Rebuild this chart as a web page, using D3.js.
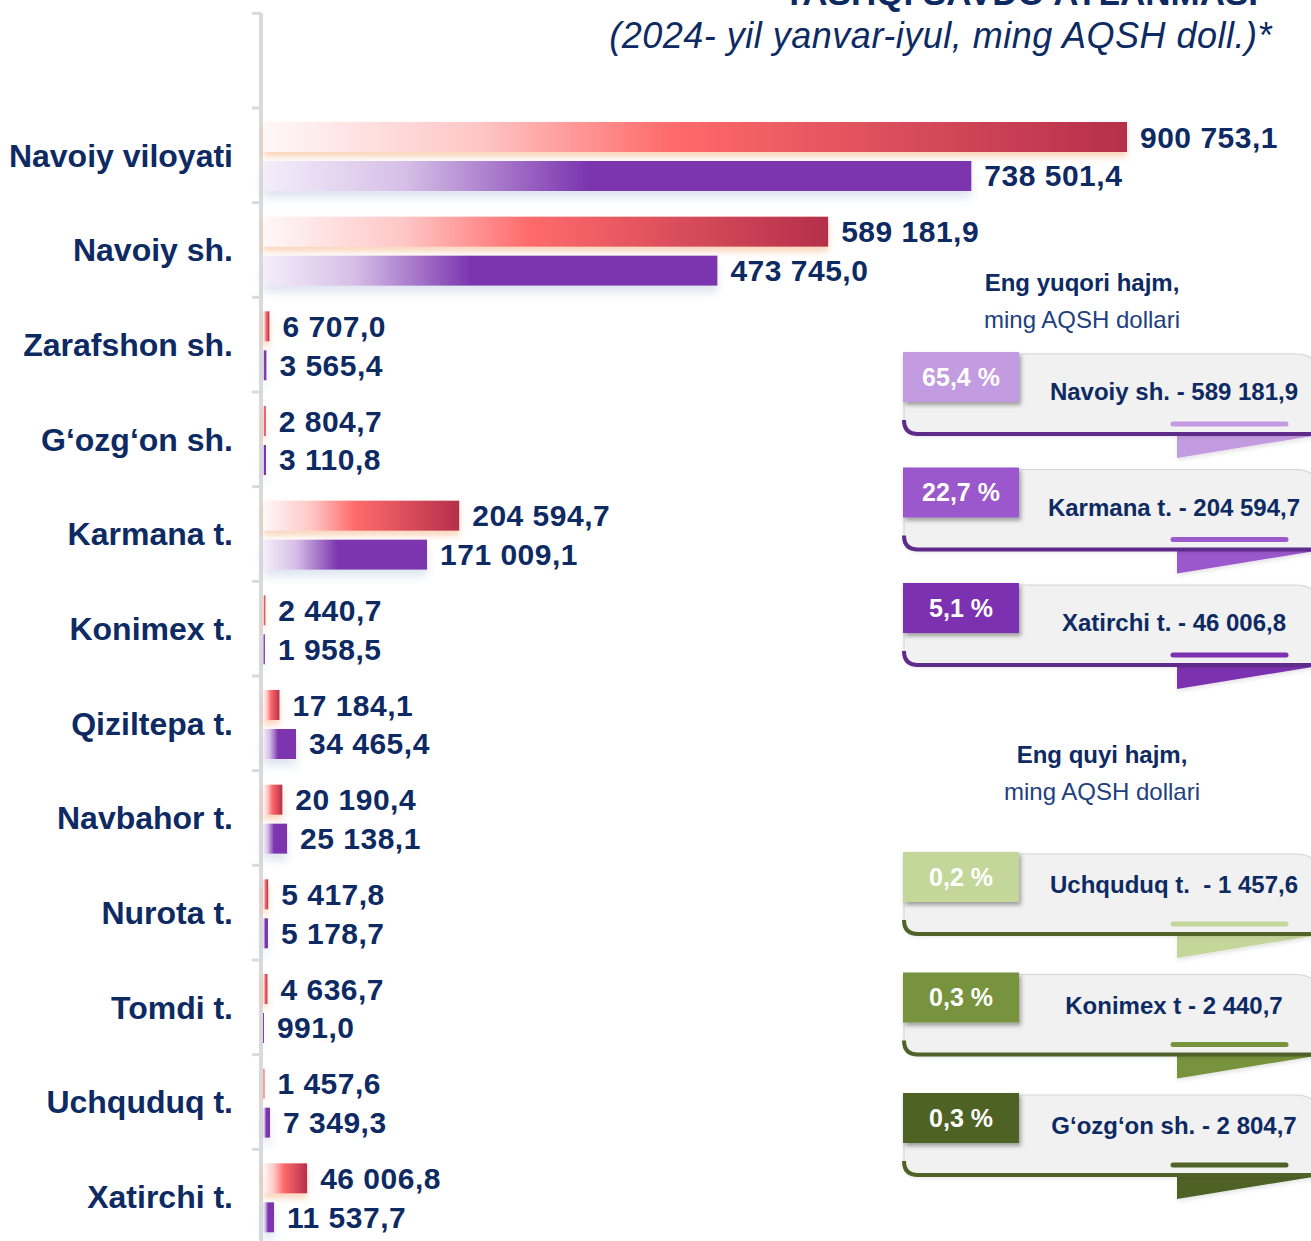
<!DOCTYPE html>
<html lang="uz">
<head>
<meta charset="UTF-8" />
<title>Tashqi savdo aylanmasi</title>
<script src="https://d3js.org/d3.v7.min.js"></script>
<style>
  body { margin: 0; background: #fff; font-family: "Liberation Sans", Arial, sans-serif; }
  svg { display: block; }
  .cat { font-size: 32px; font-weight: bold; fill: #0e2a63; }
  .val { font-size: 30px; font-weight: bold; fill: #0e2a63; letter-spacing: 0.5px; }
  .caption { font-size: 24px; font-weight: bold; fill: #0e2a63; white-space: pre; }
  .badge-text { font-size: 25px; font-weight: bold; fill: #fff; }
</style>
</head>
<body>
<svg width="1311" height="1241"></svg>
<script>
// regions, top to bottom
const regions = ["Navoiy viloyati", "Navoiy sh.", "Zarafshon sh.", "G‘ozg‘on sh.", "Karmana t.", "Konimex t.",
  "Qiziltepa t.", "Navbahor t.", "Nurota t.", "Tomdi t.", "Uchquduq t.", "Xatirchi t."];
// red bars (2024 yanvar-iyul)
const current = [900753.1, 589181.9, 6707.0, 2804.7, 204594.7, 2440.7, 17184.1, 20190.4, 5417.8, 4636.7, 1457.6, 46006.8];
// purple bars
const previous = [738501.4, 473745.0, 3565.4, 3110.8, 171009.1, 1958.5, 34465.4, 25138.1, 5178.7, 991.0, 7349.3, 11537.7];

// callouts
const topRegions = ["Navoiy sh.", "Karmana t.", "Xatirchi t."];
const topCaptions = ["Navoiy sh.", "Karmana t.", "Xatirchi t."];
const topColors = ["#c39be0", "#9b59cc", "#7b30b0"];
const bottomRegions = ["Uchquduq t.", "Konimex t.", "G‘ozg‘on sh."];
const bottomCaptions = ["Uchquduq t. ", "Konimex t", "G‘ozg‘on sh."];
const bottomColors = ["#c4d79b", "#77933c", "#4f6228"];

const navy = "#0e2a63";
const uz = d3.formatLocale({ decimal: ",", thousands: " ", grouping: [3], currency: ["", ""] });
const fmt = uz.format(",.1f");
const fmtPct = uz.format(".1f");

const svg = d3.select("svg");
const W = +svg.attr("width"), H = +svg.attr("height");

const defs = svg.append("defs");
const redGrad = defs.append("linearGradient").attr("id", "redGrad");
[[0, "#fff8f8"], [0.25, "#ffc6c6"], [0.47, "#ff6b6b"], [1, "#b52f4b"]].forEach(([o, c]) =>
  redGrad.append("stop").attr("offset", o).attr("stop-color", c));
const purpleGrad = defs.append("linearGradient").attr("id", "purpleGrad");
[[0, "#f4eefa"], [0.2, "#d6bfe7"], [0.46, "#7b34ae"], [1, "#7b34ae"]].forEach(([o, c]) =>
  purpleGrad.append("stop").attr("offset", o).attr("stop-color", c));

function shadow(id, color, opacity, dx, dy, sd) {
  defs.append("filter").attr("id", id)
    .attr("filterUnits", "userSpaceOnUse")
    .attr("x", 0).attr("y", 0).attr("width", W).attr("height", H)
    .append("feDropShadow")
    .attr("dx", dx).attr("dy", dy).attr("stdDeviation", sd)
    .attr("flood-color", color).attr("flood-opacity", opacity);
}
shadow("redShadow", "#f3a46a", 0.45, 0, 5, 3);
shadow("purpleShadow", "#b9c6e0", 0.45, 0, 7, 4);
shadow("badgeShadow", "#000", 0.35, 2, 3, 2);
shadow("cardShadow", "#000", 0.12, 1, 2, 2);

// title (its top is cut by the picture edge)
svg.append("text")
  .attr("x", 1258).attr("y", 5)
  .attr("text-anchor", "end")
  .style("font-size", "35px").style("font-weight", "bold").style("fill", navy)
  .text("TASHQI SAVDO AYLANMASI");
svg.append("text")
  .attr("x", 1272).attr("y", 48)
  .attr("text-anchor", "end")
  .style("font-size", "36px").style("font-style", "italic").style("fill", navy)
  .style("letter-spacing", "0.5px")
  .text("(2024- yil yanvar-iyul, ming AQSH doll.)*");

// scales
const y = d3.scaleBand().domain(regions).range([108, 1244]);
const sub = d3.scaleBand().domain(["current", "previous"]).range([14, 83]).paddingInner(0.23);
const x = d3.scaleLinear().domain([0, d3.max(current)]).range([263, 1127]);

// axis
const axisX = 261;
svg.append("line")
  .attr("x1", axisX).attr("x2", axisX)
  .attr("y1", y.range()[0] - y.step()).attr("y2", H)
  .attr("stroke", "#dadada").attr("stroke-width", 4);
const tickYs = [y.range()[0] - y.step()].concat(regions.map(r => y(r)));
svg.selectAll(".tick").data(tickYs).enter().append("line")
  .attr("class", "tick")
  .attr("x1", axisX - 9).attr("x2", axisX)
  .attr("y1", d => d).attr("y2", d => d)
  .attr("stroke", "#dadada").attr("stroke-width", 3);

// category labels
svg.selectAll(".cat").data(regions).enter().append("text")
  .attr("class", "cat")
  .attr("x", 233)
  .attr("y", d => y(d) + y.step() / 2)
  .attr("dy", "0.35em")
  .attr("text-anchor", "end")
  .text(d => d);

// bars
const rows = regions.map((r, i) => ({ region: r, current: current[i], previous: previous[i] }));
const series = [
  { key: "current", fill: "url(#redGrad)", filter: "url(#redShadow)" },
  { key: "previous", fill: "url(#purpleGrad)", filter: "url(#purpleShadow)" }
];
series.forEach(s => {
  svg.append("g").selectAll("rect").data(rows).enter().append("rect")
    .attr("x", x(0))
    .attr("y", d => y(d.region) + sub(s.key))
    .attr("width", d => x(d[s.key]) - x(0))
    .attr("height", sub.bandwidth())
    .attr("fill", s.fill)
    .attr("filter", s.filter);
  svg.append("g").selectAll("text").data(rows).enter().append("text")
    .attr("class", "val")
    .attr("x", d => x(d[s.key]) + 13)
    .attr("y", d => y(d.region) + sub(s.key) + sub.bandwidth() / 2)
    .attr("dy", "0.35em")
    .text(d => fmt(d[s.key]));
});

// callout groups
const total = current[0];
function valueOf(region) { return current[regions.indexOf(region)]; }

function callouts(names, captions, colors, lineColor, range, textOffset, heading) {
  const pos = d3.scalePoint().domain(names).range(range);
  const g = svg.append("g");
  g.append("text")
    .attr("x", heading.x).attr("y", heading.y1)
    .attr("text-anchor", "middle")
    .style("font-size", "24px").style("font-weight", "bold").style("fill", navy)
    .text(heading.title);
  g.append("text")
    .attr("x", heading.x).attr("y", heading.y2)
    .attr("text-anchor", "middle")
    .style("font-size", "24px").style("fill", "#22407e")
    .text("ming AQSH dollari");

  const left = 904, right = 1318, r = 22, lr = 14;
  names.forEach((name, i) => {
    const t = pos(name);
    const top = t + 2, bottom = t + 82;
    const col = colors[i];
    const box = g.append("g");
    // fold under the card
    box.append("path")
      .attr("d", `M1177,${bottom + 1}H${right}L1177,${bottom + 24}Z`)
      .attr("fill", col)
      .attr("filter", "url(#cardShadow)");
    // card
    box.append("path")
      .attr("d", `M${left},${top}H${right - r}Q${right},${top} ${right},${top + r}V${bottom}H${left + lr}Q${left},${bottom} ${left},${bottom - lr}Z`)
      .attr("fill", "#f1f1f1")
      .attr("stroke", "#d6d6d6")
      .attr("stroke-width", 1.2)
      .attr("filter", "url(#cardShadow)");
    // bottom edge
    box.append("path")
      .attr("d", `M${left},${bottom - lr}Q${left},${bottom} ${left + lr},${bottom}H${right}`)
      .attr("fill", "none")
      .attr("stroke", lineColor)
      .attr("stroke-width", 4);
    // underline
    box.append("line")
      .attr("x1", 1173).attr("x2", 1286)
      .attr("y1", bottom - 10).attr("y2", bottom - 10)
      .attr("stroke", col).attr("stroke-width", 5).attr("stroke-linecap", "round");
    // badge
    box.append("rect")
      .attr("x", 903).attr("y", t)
      .attr("width", 116).attr("height", 50)
      .attr("fill", col)
      .attr("filter", "url(#badgeShadow)");
    box.append("text")
      .attr("class", "badge-text")
      .attr("x", 961).attr("y", t + 25).attr("dy", "0.35em")
      .attr("text-anchor", "middle")
      .text(fmtPct(valueOf(name) / total * 100) + " %");
    // caption
    box.append("text")
      .attr("class", "caption")
      .attr("x", 1174).attr("y", t + textOffset).attr("dy", "0.35em")
      .attr("text-anchor", "middle")
      .text(`${captions[i]} - ${fmt(valueOf(name))}`);
  });
}

callouts(topRegions, topCaptions, topColors, "#5f2b8a", [352, 583], 40,
  { title: "Eng yuqori hajm,", x: 1082, y1: 291, y2: 328 });
callouts(bottomRegions, bottomCaptions, bottomColors, "#4f6228", [852, 1093], 33,
  { title: "Eng quyi hajm,", x: 1102, y1: 763, y2: 800 });
</script>
</body>
</html>
